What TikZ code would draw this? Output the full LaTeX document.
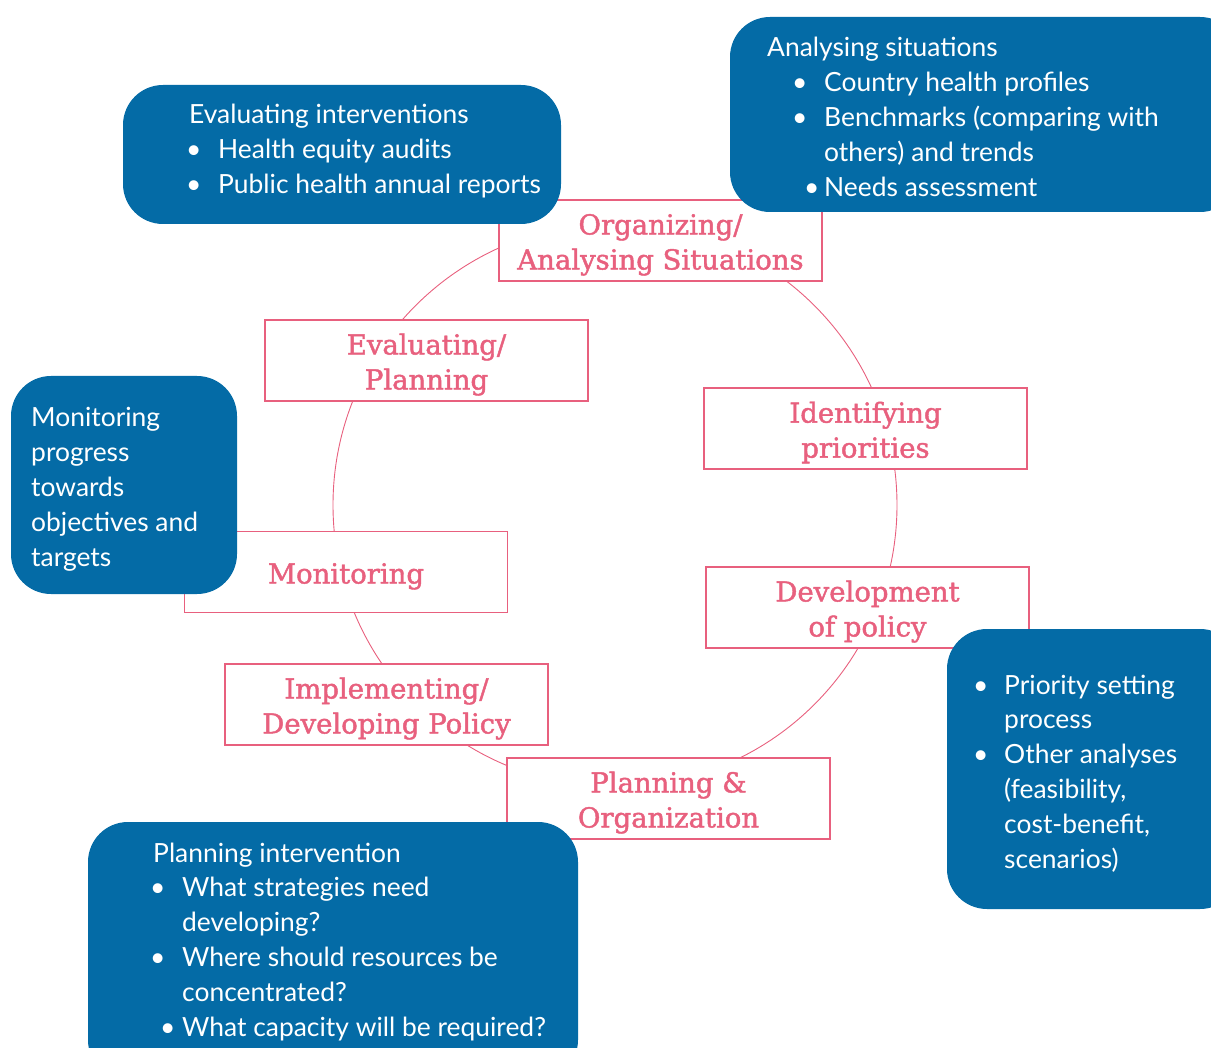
\documentclass[tikz,border=0pt]{standalone}
\usepackage{fontspec}
\setmainfont{Lato}
\newfontfamily\stagefont[FakeBold=1.6]{DejaVu Serif}
\usetikzlibrary{positioning}

\definecolor{cycleblue}{RGB}{4,107,166}
\definecolor{cyclepink}{RGB}{232,96,126}

% bullet line: bullet shift, gap to text, text
\newcommand{\bitem}[3]{\hspace*{#1}\makebox[#2][l]{\textbullet}#3}

\tikzset{
  stage/.style={draw=cyclepink, fill=white, line width=1.1pt,
    minimum width=323pt, minimum height=81pt, inner sep=0pt,
    text=cyclepink, align=center, text height=64pt,
    font=\stagefont\fontsize{27.5}{35}\selectfont},
  ring/.style={draw=cyclepink, line width=0.9pt},
  notebox/.style={fill=cycleblue, rounded corners=40pt},
  notetext/.style={text=white, inner sep=0pt, anchor=base west,
    font=\fontsize{26.4}{34.8}\selectfont}
}

\begin{document}
\begin{tikzpicture}[x=1pt, y=-1pt]
  \useasboundingbox (0,0) rectangle (1211,1048);
  \clip (0,0) rectangle (1211,1048);

  % the cycle
  \draw[ring] (615,505) circle[radius=282pt];

  % stages round the cycle
  \node[stage] (organizing) at (660.5,240.5) {Organizing/\\Analysing Situations};
  \node[stage] (evaluating) at (426.5,360.5) {Evaluating/\\Planning};
  \node[stage] (identifying) at (865.5,428.5) {Identifying\\priorities};
  \node[stage, text height=29pt] (monitoring) at (346,572) {Monitoring};
  \node[stage] (development) at (867.5,607.5) {Development\\of policy};
  \node[stage] (implementing) at (386.5,704.5) {Implementing/\\Developing Policy};
  \node[stage] (planning) at (668.5,798.5) {Planning \&\\Organization};

  % notes
  \path[notebox] (123,85) rectangle (561,224);
  \node[notetext] (evalnote) at (189,124) {\begin{tabular}[t]{@{}l@{}}
    Evaluating interventions\\
    \bitem{-3pt}{32pt}{Health equity audits}\\
    \bitem{-3pt}{32pt}{Public health annual reports}
  \end{tabular}};

  \path[notebox] (730,17) rectangle (1240,212);
  \node[notetext] (situationnote) at (767,57) {\begin{tabular}[t]{@{}l@{}}
    Analysing situations\\
    \bitem{25pt}{32pt}{Country health profiles}\\
    \bitem{25pt}{32pt}{Benchmarks (comparing with}\\
    \hspace*{57pt}others) and trends\\
    \bitem{37pt}{20pt}{Needs assessment}
  \end{tabular}};

  \path[notebox] (11,376) rectangle (237,594);
  \node[notetext] (monitornote) at (31,427) {\begin{tabular}[t]{@{}l@{}}
    Monitoring\\ progress\\ towards\\ objectives and\\ targets
  \end{tabular}};

  \path[notebox] (947,629) rectangle (1240,909);
  \node[notetext] (prioritynote) at (973,694) {\begin{tabular}[t]{@{}l@{}}
    \bitem{0pt}{31pt}{Priority setting}\\
    \hspace*{31pt}process\\
    \bitem{0pt}{31pt}{Other analyses}\\
    \hspace*{31pt}(feasibility,\\
    \hspace*{31pt}cost-benefit,\\
    \hspace*{31pt}scenarios)
  \end{tabular}};

  \path[notebox] (88,822) rectangle (578,1080);
  \node[notetext] (planningnote) at (153,862) {\begin{tabular}[t]{@{}l@{}}
    Planning intervention\\
    \bitem{-3pt}{32pt}{What strategies need}\\
    \hspace*{29pt}developing?\\
    \bitem{-3pt}{32pt}{Where should resources be}\\
    \hspace*{29pt}concentrated?\\
    \bitem{7pt}{22pt}{What capacity will be required?}
  \end{tabular}};
\end{tikzpicture}
\end{document}
